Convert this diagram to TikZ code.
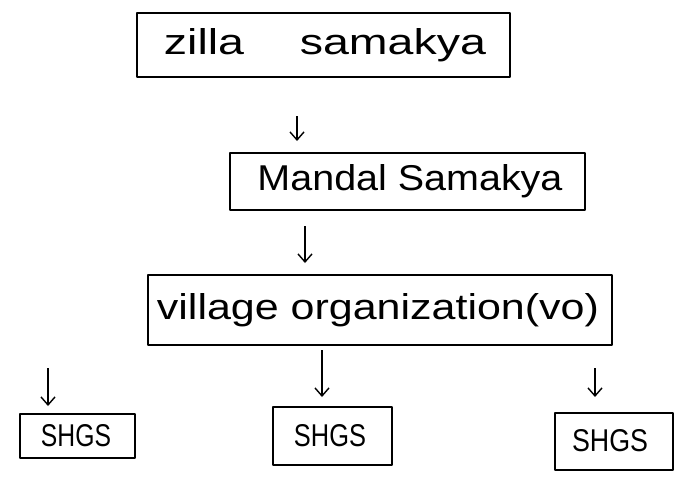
\documentclass[tikz,border=0pt]{standalone}
\usepackage{fontspec}
\setmainfont{Liberation Sans}
\usetikzlibrary{arrows.meta}
\tikzset{
  box/.style={draw, line width=1.5pt, rectangle, inner sep=0pt, line join=round},
  arr/.style={line width=1.4pt, -{Straight Barb[length=8pt,width=14pt,line width=1.4pt]}},
  lbl/.style={inner sep=0pt}
}
\begin{document}
\begin{tikzpicture}[x=1pt,y=-1pt]
\useasboundingbox (0,0) rectangle (675,477);
% boxes
\node[box, minimum width=373pt, minimum height=64pt] (zilla) at (323.5,45) {};
\node[lbl] (zt) at (325,45) {\resizebox{322pt}{26pt}{zilla\hspace{1.2em}samakya}};
\node[box, minimum width=355pt, minimum height=57pt] (mandal) at (407.5,181.5) {};
\node[lbl] (mt) at (410,181) {\resizebox{305pt}{26pt}{Mandal Samakya}};
\node[box, minimum width=464pt, minimum height=70pt] (vo) at (380,310) {};
\node[lbl] (vt) at (378,310) {\resizebox{442pt}{26pt}{village organization(vo)}};
\node[box, minimum width=115pt, minimum height=44pt] (s1) at (77.5,436) {};
\node[lbl] (s1t) at (76,436) {\resizebox{70pt}{22pt}{SHGS}};
\node[box, minimum width=119pt, minimum height=58pt] (s2) at (332.5,436) {};
\node[lbl] (s2t) at (330,436) {\resizebox{72pt}{22pt}{SHGS}};
\node[box, minimum width=118pt, minimum height=57pt] (s3) at (614,441.5) {};
\node[lbl] (s3t) at (610,441) {\resizebox{76pt}{22pt}{SHGS}};
% arrow end points
\coordinate (a1s) at (297,116); \coordinate (a1e) at (297,141);
\coordinate (a2s) at (305,226); \coordinate (a2e) at (305,263);
\coordinate (a3s) at (48,368);  \coordinate (a3e) at (48,406);
\coordinate (a4s) at (322,350); \coordinate (a4e) at (322,397);
\coordinate (a5s) at (595,368); \coordinate (a5e) at (595,397);
\draw[arr] (a1s) -- (a1e);
\draw[arr] (a2s) -- (a2e);
\draw[arr] (a3s) -- (a3e);
\draw[arr] (a4s) -- (a4e);
\draw[arr] (a5s) -- (a5e);
\end{tikzpicture}
\end{document}
